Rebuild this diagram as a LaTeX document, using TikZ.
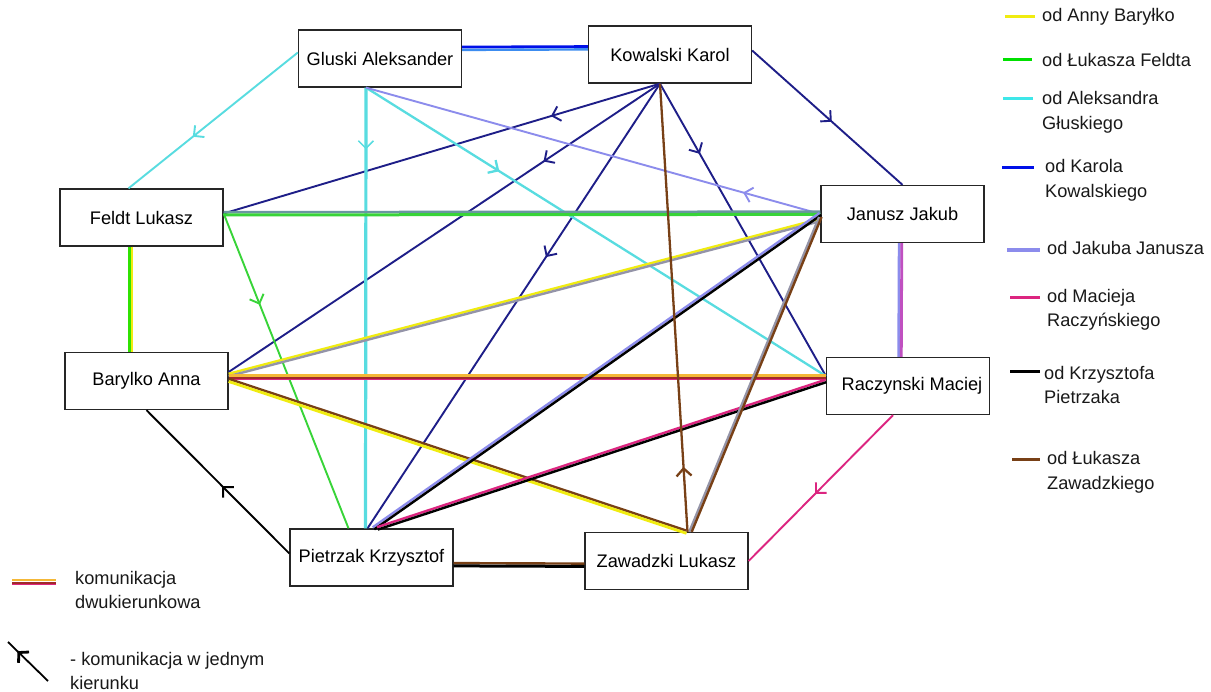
\documentclass[tikz,border=0pt]{standalone}
\usepackage{fontspec}
\setmainfont{Liberation Sans}
\usetikzlibrary{calc,arrows.meta,decorations.markings}
\definecolor{cY}{HTML}{F0EC10}
\definecolor{cO}{HTML}{F4B838}
\definecolor{cR}{HTML}{A02A2A}
\definecolor{cG}{HTML}{38D438}
\definecolor{cGL}{HTML}{00E000}
\definecolor{cC}{HTML}{58DCE0}
\definecolor{cB}{HTML}{1E1E88}
\definecolor{cBB}{HTML}{0010E8}
\definecolor{cBL}{HTML}{3C8CF0}
\definecolor{cL}{HTML}{8C8CEC}
\definecolor{cGr}{HTML}{9494A8}
\definecolor{cGB}{HTML}{6A96A0}
\definecolor{cP}{HTML}{DC2580}
\definecolor{cN}{HTML}{784016}
\definecolor{cM}{HTML}{C050C0}
\tikzset{
  box/.style={draw=black!85, line width=1.3pt, minimum width=163pt, minimum height=57pt, inner sep=0pt, font=\fontsize{18.2}{21}\selectfont},
  one/.style={line width=1.9pt},
  two/.style={line width=2.4pt},
  midarr/.style={postaction={decorate,decoration={markings,mark=at position #1 with {\arrow{Straight Barb[length=7.5pt,width=15pt]}}}}},
  lgtext/.style={anchor=west, font=\fontsize{18.2}{24.5}\selectfont, align=left, inner sep=0pt, text=black!90},
  lgline/.style={line width=3pt},
}
\begin{document}
\begin{tikzpicture}[x=1pt,y=-1pt]
\useasboundingbox[fill=white] (0,0) rectangle (1211,692);

% nodes
\node[box] (glu) at (380,58.5) {Gluski Aleksander};
\node[box] (kow) at (670,54.5) {Kowalski Karol};
\node[box] (fel) at (141.5,217.5) {Feldt Lukasz};
\node[box] (jan) at (902.5,214) {Janusz Jakub};
\node[box] (bar) at (146.5,381) {Barylko Anna};
\node[box] (rac) at (908,386) {\hspace{8pt}Raczynski Maciej};
\node[box] (pie) at (371.5,557.5) {Pietrzak Krzysztof};
\node[box] (zaw) at (666.5,561) {Zawadzki Lukasz};

% anchor points
\coordinate (kowB) at ($(kow.south)+(-10,0)$);
\coordinate (kowE) at ($(kow.east)+(0,-4)$);
\coordinate (gluB) at ($(glu.south)+(-14,0)$);
\coordinate (gluW) at ($(glu.west)+(0,-6)$);
\coordinate (felE) at ($(fel.east)+(0,-4)$);
\coordinate (felN) at ($(fel.north)+(-13,0)$);
\coordinate (racW) at ($(rac.west)+(0,-10)$);
\coordinate (racB) at ($(rac.south)+(-15,0)$);
\coordinate (pieL) at ($(pie.west)+(0,-4)$);

% Gluski - Kowalski (two-way)
\draw[cBB, line width=2.8pt, transform canvas={yshift=1.4pt}] ($(glu.east)+(0,-10)$) -- ($(kow.west)+(0,-6.5)$);
\draw[cBL, two, transform canvas={yshift=-1.4pt}] ($(glu.east)+(0,-10)$) -- ($(kow.west)+(0,-6.5)$);

% Gluski -> Feldt
\draw[cC, one, midarr=0.62] (gluW) -- (felN);
% Kowalski -> Janusz
\draw[cB, one, midarr=0.53] (kowE) -- (jan.north);
% Kowalski -> Feldt, Barylko, Pietrzak, Raczynski
\draw[cB, one, midarr=0.25] (kowB) -- (felE);
\draw[cB, one, midarr=0.27] (kowB) -- ($(bar.east)+(0,-9)$);
\draw[cB, one, midarr=0.39] (kowB) -- ($(pie.north)+(-4,0)$);
\draw[cB, one, midarr=0.24] (kowB) -- (racW);
% Gluski -> Pietrzak, Raczynski
\draw[cC, line width=3.2pt, postaction={decorate,decoration={markings,mark=at position 0.14 with {\arrow[line width=1.5pt]{Straight Barb[length=7.5pt,width=15pt]}}}}] (gluB) -- ($(pie.north)+(-6,0)$);
\draw[cC, line width=2.3pt, midarr=0.29] (gluB) -- (racW);
% Janusz -> Gluski
\draw[cL, one, midarr=0.17] (jan.west) -- (gluB);
% Feldt -> Pietrzak
\draw[cG, one, midarr=0.29] (felE) -- ($(pie.north)+(-23,0)$);

% Feldt - Janusz (two-way)
\draw[cGB, line width=2.4pt, transform canvas={yshift=1.4pt}] (felE) -- ($(jan.west)+(0,-1)$);
\draw[cG, line width=3pt, transform canvas={yshift=-1.4pt}] (felE) -- ($(jan.west)+(0,-1)$);
% Feldt - Barylko (two-way)
\draw[cGL!80!cY, line width=2.8pt, transform canvas={xshift=-1.3pt}] ($(fel.south)+(-11,0)$) -- ($(bar.north)+(-16,0)$);
\draw[cY, line width=2.4pt, transform canvas={xshift=1.4pt}] ($(fel.south)+(-11,0)$) -- ($(bar.north)+(-16,0)$);
% Barylko - Janusz (two-way)
\draw[cY, two, transform canvas={yshift=1.2pt}] ($(bar.east)+(0,-6)$) -- ($(jan.west)+(0,6)$);
\draw[cGr, two, transform canvas={yshift=-1.2pt}] ($(bar.east)+(0,-6)$) -- ($(jan.west)+(0,6)$);
% Barylko - Raczynski (two-way)
\draw[cO, line width=2.6pt, transform canvas={yshift=2.2pt}] ($(bar.east)+(0,-3)$) -- ($(rac.west)+(0,-8)$);
\draw[cR, line width=2.4pt] ($(bar.east)+(0,-3)$) -- ($(rac.west)+(0,-8)$);
\draw[cP, line width=1.3pt, transform canvas={yshift=-1.7pt}] ($(bar.east)+(0,-3)$) -- ($(rac.west)+(0,-8)$);
% Barylko - Zawadzki (two-way)
\draw[cN, two, transform canvas={yshift=1.2pt}] ($(bar.east)+(0,-1)$) -- ($(zaw.north)+(20,0)$);
\draw[cY, line width=2.8pt, transform canvas={yshift=-1.5pt}] ($(bar.east)+(0,-1)$) -- ($(zaw.north)+(20,0)$);
% Pietrzak -> Barylko
\draw[black, one, midarr=0.47] (pieL) -- (bar.south);
% Pietrzak - Janusz (two-way)
\draw[cL, two, transform canvas={xshift=-0.8pt,yshift=1pt}] ($(pie.north)+(2,0)$) -- (jan.west);
\draw[black, two, transform canvas={xshift=0.8pt,yshift=-1pt}] ($(pie.north)+(2,0)$) -- (jan.west);
% Pietrzak - Raczynski (two-way)
\draw[cP, two, transform canvas={xshift=-0.4pt,yshift=1.2pt}] ($(pie.north)+(6,0)$) -- ($(rac.west)+(0,-5)$);
\draw[black, two, transform canvas={xshift=0.4pt,yshift=-1.2pt}] ($(pie.north)+(6,0)$) -- ($(rac.west)+(0,-5)$);
% Pietrzak - Zawadzki (two-way)
\draw[cN, two, transform canvas={yshift=1.4pt}] ($(pie.east)+(0,7)$) -- ($(zaw.west)+(0,4)$);
\draw[black, line width=3pt, transform canvas={yshift=-1.4pt}] ($(pie.east)+(0,7)$) -- ($(zaw.west)+(0,4)$);
% Zawadzki - Janusz (two-way)
\draw[cGr, two, transform canvas={xshift=-1.2pt}] ($(zaw.north)+(24,0)$) -- ($(jan.west)+(0,3)$);
\draw[cN, two, transform canvas={xshift=1.2pt}] ($(zaw.north)+(24,0)$) -- ($(jan.west)+(0,3)$);
% Zawadzki -> Kowalski
\draw[cN, line width=2.3pt, midarr=0.145] ($(zaw.north)+(21,0)$) -- (kowB);
% Janusz - Raczynski (two-way)
\draw[cL, line width=2.8pt, transform canvas={xshift=-1.3pt}] ($(jan.south)+(-2,0)$) -- ($(rac.north)+(-8,0)$);
\draw[cM, line width=2.8pt, transform canvas={xshift=1.3pt}] ($(jan.south)+(-2,0)$) -- ($(rac.north)+(-8,0)$);
% Raczynski -> Zawadzki
\draw[cP, one, midarr=0.54] (racB) -- (zaw.east);

% legend (right)
\draw[cY, lgline] (1005,17) -- (1035,17);
\node[lgtext] (l1) at (1042,17) {od Anny Baryłko};
\draw[cGL, lgline] (1003,60) -- (1032,60);
\node[lgtext] (l2) at (1042,60) {od Łukasza Feldta};
\draw[cC!70!cyan, lgline] (1003,99) -- (1033,99);
\node[lgtext] (l3) at (1042,112.5) {od Aleksandra\\Głuskiego};
\draw[cBB, lgline] (1002,168) -- (1034,168);
\node[lgtext] (l4) at (1045,180.5) {od Karola\\Kowalskiego};
\draw[cL, lgline, line width=3.5pt] (1007,250) -- (1040,250);
\node[lgtext] (l5) at (1047,248) {od Jakuba Janusza};
\draw[cP, lgline] (1010,298) -- (1040,298);
\node[lgtext] (l6) at (1047,310) {od Macieja\\Raczyńskiego};
\draw[black, lgline] (1010,372) -- (1040,372);
\node[lgtext] (l7) at (1044,385) {od Krzysztofa\\Pietrzaka};
\draw[cN, lgline] (1012,460) -- (1040,460);
\node[lgtext] (l8) at (1047,472.5) {od Łukasza\\Zawadzkiego};

% legend (bottom left)
\draw[cO, line width=2.6pt] (12,580) -- (56,580);
\draw[cR, line width=2.4pt] (12,582.7) -- (56,582.7);
\draw[cP, line width=1.3pt] (12,584.8) -- (56,584.8);
\node[lgtext] (l9) at (75,590) {komunikacja\\dwukierunkowa};
\draw[black, line width=1.8pt, postaction={decorate,decoration={markings,mark=at position 0.42 with {\arrow[line width=2.8pt]{Straight Barb[length=7pt,width=15pt,reversed]}}}}] (8,642) -- (48,681);
\node[lgtext] (l10) at (70,671) {- komunikacja w jednym\\kierunku};
\end{tikzpicture}
\end{document}
